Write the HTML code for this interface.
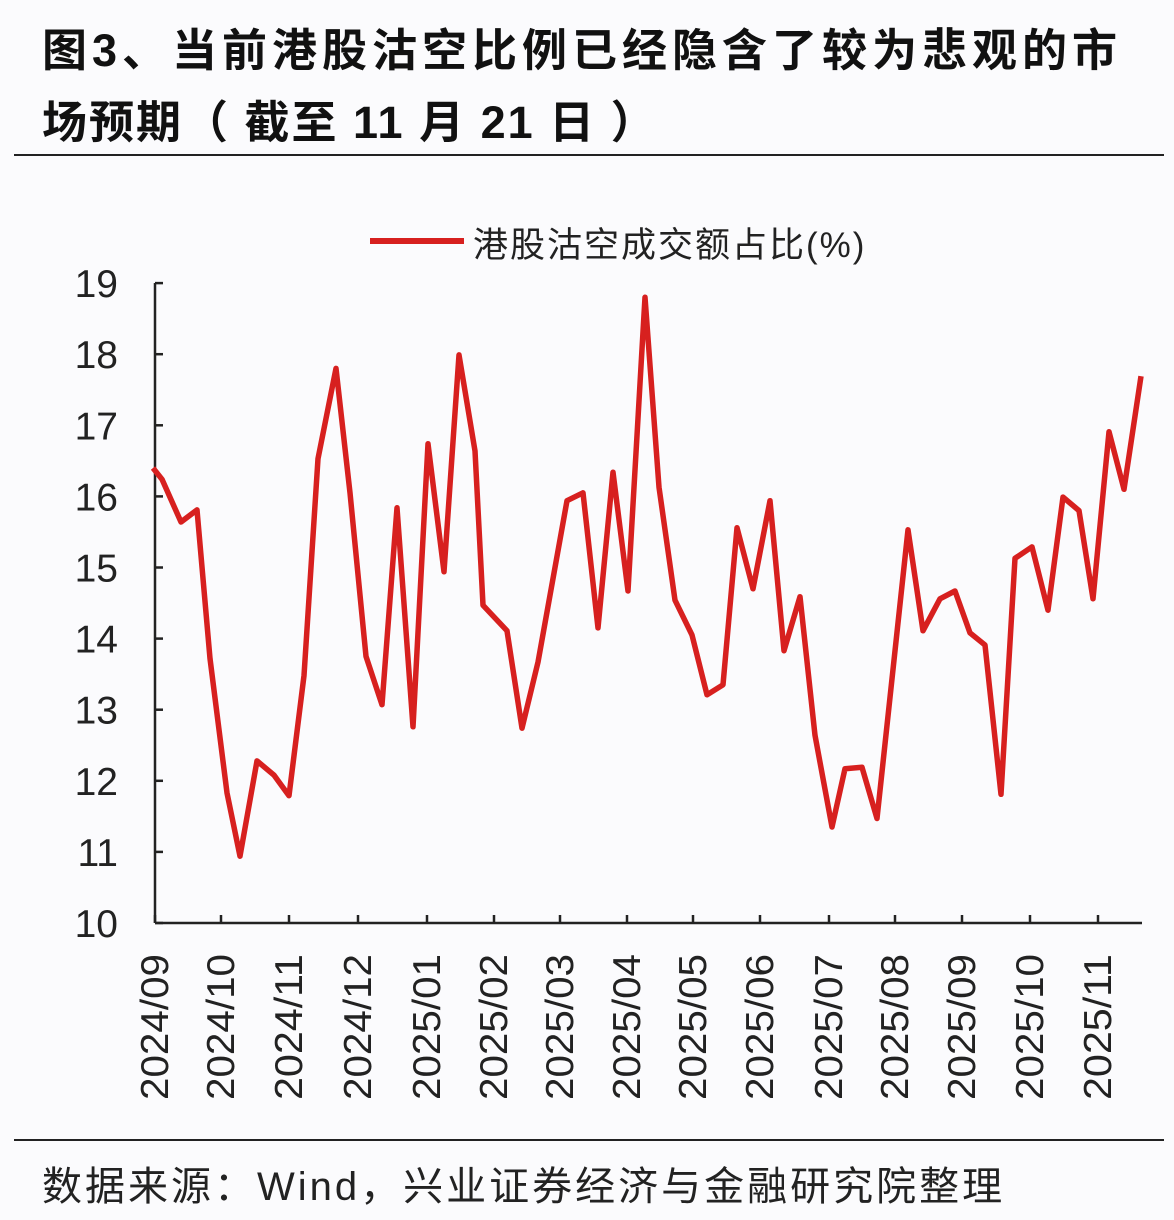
<!DOCTYPE html>
<html><head><meta charset="utf-8"><style>
html,body{margin:0;padding:0;background:#fbfbfd;}
body{width:1174px;height:1220px;overflow:hidden;position:relative;font-family:"Liberation Sans","Noto Sans CJK SC",sans-serif;}
.t{position:absolute;left:42px;font-size:45px;font-weight:bold;color:#111;white-space:nowrap;letter-spacing:5px;}
</style></head><body>
<div class="t" style="top:14px">图3、当前港股沽空比例已经隐含了较为悲观的市</div>
<div class="t" style="top:86px;letter-spacing:2px">场预期（ 截至 11 月 21 日 ）</div>
<div style="position:absolute;left:14px;top:154px;width:1150px;height:2px;background:#222"></div>
<div style="position:absolute;left:14px;top:1139px;width:1150px;height:2px;background:#222"></div>
<div style="position:absolute;left:42px;top:1154px;font-size:40px;letter-spacing:3px;color:#222;white-space:nowrap">数据来源：Wind，兴业证券经济与金融研究院整理</div>
<svg id="s" width="1174" height="1220" style="position:absolute;left:0;top:0" xmlns="http://www.w3.org/2000/svg">
<line x1="370" y1="241" x2="464" y2="241" stroke="#d7201f" stroke-width="6"/>
<text x="473" y="257" font-size="35" letter-spacing="2" fill="#222" font-family="Liberation Sans,Noto Sans CJK SC,sans-serif">港股沽空成交额占比(%)</text>
<g id="ax" stroke="#222" stroke-width="2.5" fill="none"></g>
<g id="lab" font-size="39" fill="#222" font-family="Liberation Sans,sans-serif"></g>
<polyline id="ln" fill="none" stroke="#d7201f" stroke-width="5.5" stroke-linejoin="round"/>
</svg>
<script>
var ns="http://www.w3.org/2000/svg";
function Y(v){return 923-(v-10)*71.1;}
var ax=document.getElementById('ax'),lab=document.getElementById('lab');
function el(p,t,a,txt){var e=document.createElementNS(ns,t);for(var k in a)e.setAttribute(k,a[k]);if(txt)e.textContent=txt;p.appendChild(e);return e;}
el(ax,'line',{x1:155,y1:283,x2:155,y2:923});
el(ax,'line',{x1:155,y1:923,x2:1142,y2:923});
for(var v=10;v<=19;v++){var y=Y(v);el(ax,'line',{x1:155,y1:y,x2:163,y2:y});el(lab,'text',{x:118,y:y+14,'text-anchor':'end'},String(v));}
var xs=[155,221,289,358,427,494,560,627,693,760,829,895,962,1030,1098];
var ml=['2024/09','2024/10','2024/11','2024/12','2025/01','2025/02','2025/03','2025/04','2025/05','2025/06','2025/07','2025/08','2025/09','2025/10','2025/11'];
xs.forEach(function(x,i){el(ax,'line',{x1:x,y1:915,x2:x,y2:923});el(lab,'text',{x:0,y:0,'text-anchor':'end',textLength:146,lengthAdjust:'spacingAndGlyphs',transform:'translate('+(x+13)+',954) rotate(-90)'},ml[i]);});
var d=[[153,16.40],[162,16.24],[181,15.64],[197,15.81],[210,13.72],[227,11.83],[240,10.94],[257,12.28],[274,12.08],[289,11.79],[304,13.48],[318,16.53],[336,17.80],[350,16.05],[366,13.75],[382,13.07],[397,15.84],[413,12.76],[428,16.74],[444,14.94],[459,17.99],[475,16.64],[483,14.47],[507,14.11],[522,12.74],[538,13.67],[567,15.94],[583,16.05],[598,14.15],[613,16.34],[628,14.67],[645,18.80],[659,16.13],[675,14.54],[692,14.05],[707,13.21],[723,13.35],[737,15.56],[753,14.70],[770,15.94],[784,13.83],[800,14.59],[815,12.64],[832,11.35],[845,12.17],[862,12.19],[877,11.47],[908,15.53],[923,14.11],[940,14.56],[955,14.67],[970,14.08],[985,13.91],[1001,11.81],[1015,15.13],[1032,15.29],[1048,14.40],[1063,15.99],[1079,15.80],[1093,14.56],[1109,16.91],[1124,16.10],[1141,17.69]];
document.getElementById('ln').setAttribute('points',d.map(function(p){return p[0]+','+Y(p[1]).toFixed(1);}).join(' '));
</script>
</body></html>
